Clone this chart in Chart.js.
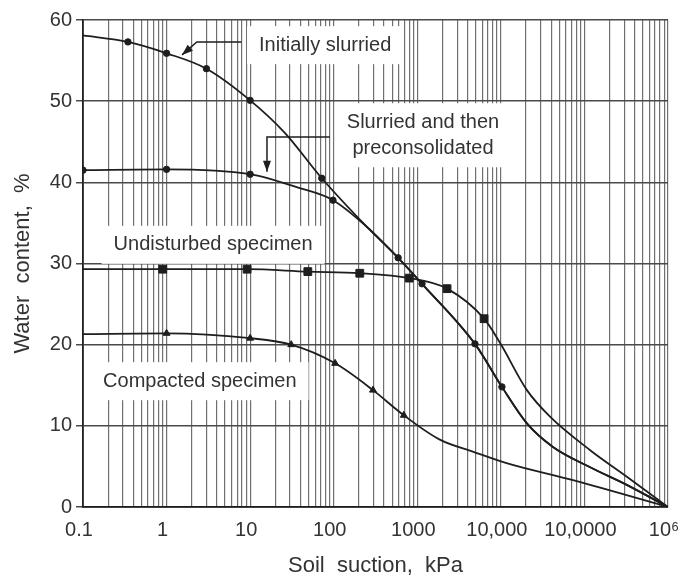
<!DOCTYPE html>
<html>
<head>
<meta charset="utf-8">
<script src="https://cdn.jsdelivr.net/npm/chart.js@4.4.0/dist/chart.umd.min.js"></script>
<style>
html, body { margin: 0; padding: 0; background: #fff; }
</style>
</head>
<body>
<canvas id="myChart" width="683" height="583"></canvas>
<script>
// curve points (suction kPa, water content %)
var slurriedX = [0.1, 0.345, 1, 3, 10, 26, 72, 250, 590, 1140, 4900, 10300, 20500, 42000, 117000, 325000, 1e6];
var slurriedY = [58.1, 57.3, 55.9, 54.0, 50.1, 46.1, 40.5, 34.5, 30.7, 27.5, 20.1, 14.8, 10.3, 7.4, 4.9, 2.7, 0];
var slurriedMarkX = [0.345, 1, 3, 10, 72, 590, 1140, 4900, 10300];
var slurriedMarkY = [57.3, 55.9, 54.0, 50.1, 40.5, 30.7, 27.5, 20.1, 14.8];

var preconX = [0.1, 1, 10, 36, 98, 250, 590, 1140, 4900, 10300, 20500, 42000, 117000, 325000, 1e6];
var preconY = [41.5, 41.6, 41.0, 39.4, 37.8, 34.5, 30.7, 27.5, 20.1, 14.8, 10.3, 7.4, 4.9, 2.7, 0];
var preconMarkX = [0.1, 1, 10, 98];
var preconMarkY = [41.5, 41.6, 41.0, 37.8];

var undistX = [0.1, 0.9, 9.2, 49, 205, 800, 2270, 6300, 9800, 20500, 39000, 117000, 325000, 1e6];
var undistY = [29.3, 29.3, 29.3, 29.0, 28.8, 28.2, 26.9, 23.2, 20.2, 14.4, 11.1, 7.0, 3.7, 0];
var undistMarkX = [0.9, 9.2, 49, 205, 800, 2270, 6300];
var undistMarkY = [29.3, 29.3, 29.0, 28.8, 28.2, 26.9, 23.2];

var compX = [0.1, 1, 10, 31, 104, 295, 690, 1860, 4700, 11700, 73000, 1e6];
var compY = [21.3, 21.4, 20.8, 20.0, 17.7, 14.4, 11.3, 8.3, 6.8, 5.4, 3.3, 0];
var compMarkX = [1, 10, 31, 104, 295, 690];
var compMarkY = [21.4, 20.8, 20.0, 17.7, 14.4, 11.3];

var xTickLabels = ['0.1', '1', '10', '100', '1000', '10,000', '10,0000', '10\u2076'];

// text notes and their arrows, in data units
var notes = [
    { lines: ['Initially slurried'], x: 79, y: 56.9 },
    { lines: ['Slurried and then', 'preconsolidated'], x: 1170, y: 45.8 },
    { lines: ['Undisturbed specimen'], x: 3.6, y: 32.3 },
    { lines: ['Compacted specimen'], x: 2.5, y: 15.5 }
];
var arrows = [
    { x: [7.9, 2.3, 1.53], y: [57.3, 57.3, 55.7] },
    { x: [90, 15.9, 15.9], y: [45.6, 45.6, 41.3] }
];

function pts(xs, ys) {
    var out = [];
    for (let i = 0; i < xs.length; i++) {
        out.push({x: xs[i], y: ys[i]});
    }
    return out;
}

var FONT = '"Liberation Sans", Arial, sans-serif';
var INK = '#1e1e1e';

function lineSet(xs, ys) {
    return {
        data: pts(xs, ys),
        showLine: true,
        borderColor: INK,
        borderWidth: 1.8,
        pointRadius: 0,
        fill: false,
        cubicInterpolationMode: 'monotone'
    };
}
function markSet(xs, ys, style, r) {
    return {
        data: pts(xs, ys),
        showLine: false,
        pointStyle: style,
        pointRadius: r,
        pointBackgroundColor: INK,
        pointBorderColor: INK,
        pointBorderWidth: 1
    };
}

var notesPlugin = {
    id: 'notes',
    beforeDatasetsDraw: function(chart) {
        var ctx = chart.ctx;
        var xs = chart.scales.x, ys = chart.scales.y;
        ctx.save();
        ctx.font = '20px ' + FONT;
        ctx.textAlign = 'center';
        ctx.textBaseline = 'middle';
        notes.forEach(function(n) {
            var cx = xs.getPixelForValue(n.x);
            var cy = ys.getPixelForValue(n.y);
            var w = 0;
            n.lines.forEach(function(t) { w = Math.max(w, ctx.measureText(t).width); });
            var lh = 26;
            var h = lh * n.lines.length;
            ctx.fillStyle = '#fff';
            ctx.fillRect(cx - w / 2 - 12, cy - h / 2 - 6, w + 24, h + 12);
            ctx.fillStyle = '#333';
            n.lines.forEach(function(t, i) {
                ctx.fillText(t, cx, cy - h / 2 + lh / 2 + i * lh);
            });
        });
        ctx.strokeStyle = INK;
        ctx.fillStyle = INK;
        ctx.lineWidth = 1.5;
        arrows.forEach(function(a) {
            var px = a.x.map(function(v) { return xs.getPixelForValue(v); });
            var py = a.y.map(function(v) { return ys.getPixelForValue(v); });
            ctx.beginPath();
            ctx.moveTo(px[0], py[0]);
            for (let i = 1; i < px.length; i++) ctx.lineTo(px[i], py[i]);
            ctx.stroke();
            var k = px.length - 1;
            var ang = Math.atan2(py[k] - py[k - 1], px[k] - px[k - 1]);
            ctx.beginPath();
            ctx.moveTo(px[k], py[k]);
            ctx.lineTo(px[k] - 11 * Math.cos(ang) + 4 * Math.sin(ang), py[k] - 11 * Math.sin(ang) - 4 * Math.cos(ang));
            ctx.lineTo(px[k] - 11 * Math.cos(ang) - 4 * Math.sin(ang), py[k] - 11 * Math.sin(ang) + 4 * Math.cos(ang));
            ctx.closePath();
            ctx.fill();
        });
        ctx.restore();
    }
};

var ctx = document.getElementById('myChart');

var myChart = new Chart(ctx, {
    type: 'scatter',
    data: {
        datasets: [
            lineSet(slurriedX, slurriedY),
            lineSet(preconX, preconY),
            lineSet(undistX, undistY),
            lineSet(compX, compY),
            markSet(slurriedMarkX, slurriedMarkY, 'circle', 3.2),
            markSet(preconMarkX, preconMarkY, 'circle', 3.2),
            markSet(undistMarkX, undistMarkY, 'rect', 5.5),
            markSet(compMarkX, compMarkY, 'triangle', 4)
        ]
    },
    options: {
        responsive: false,
        animation: false,
        layout: {
            padding: {top: 20, right: 15, left: 4, bottom: 0}
        },
        scales: {
            x: {
                type: 'logarithmic',
                min: 0.1,
                max: 1e6,
                afterBuildTicks: function(scale) {
                    var t = [];
                    for (let d = -1; d <= 5; d++) {
                        for (let m = 1; m <= 9; m++) {
                            t.push({value: Number((m * Math.pow(10, d)).toPrecision(6))});
                        }
                    }
                    t.push({value: 1e6});
                    scale.ticks = t;
                },
                afterFit: function(scale) {
                    scale.height = 76;
                    scale.paddingLeft = 0;
                    scale.paddingRight = 0;
                },
                ticks: {
                    autoSkip: false,
                    maxRotation: 0,
                    padding: 11,
                    labelOffset: -4,
                    color: '#333',
                    font: {family: FONT, size: 20},
                    callback: function(value) {
                        var l = Math.log10(value);
                        if (Math.abs(l - Math.round(l)) < 1e-9) {
                            return xTickLabels[Math.round(l) + 1];
                        }
                        return '';
                    }
                },
                grid: {
                    color: '#707070',
                    lineWidth: 1.2,
                    drawTicks: false
                },
                border: {color: INK, width: 1.8},
                title: {
                    display: true,
                    text: 'Soil  suction,  kPa',
                    color: '#333',
                    font: {family: FONT, size: 22},
                    padding: {top: 9}
                }
            },
            y: {
                min: 0,
                max: 60,
                afterFit: function(scale) { scale.width = 79; },
                ticks: {
                    stepSize: 10,
                    padding: 4,
                    color: '#333',
                    font: {family: FONT, size: 20}
                },
                grid: {
                    color: '#4a4a4a',
                    lineWidth: 1.5,
                    tickLength: 7
                },
                border: {color: INK, width: 1.8},
                title: {
                    display: true,
                    text: 'Water  content,  %',
                    color: '#333',
                    font: {family: FONT, size: 22},
                    padding: {top: 6, bottom: 0}
                }
            }
        },
        plugins: {
            legend: {display: false},
            tooltip: {enabled: false}
        }
    },
    plugins: [notesPlugin]
});
</script>
</body>
</html>
